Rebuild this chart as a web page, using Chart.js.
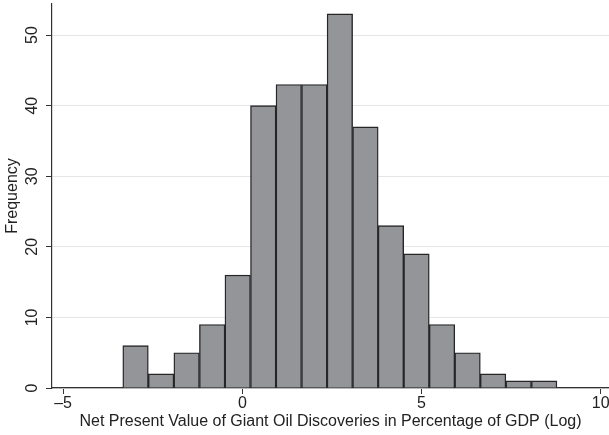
<!DOCTYPE html>
<html>
<head>
<meta charset="utf-8">
<script src="https://cdn.jsdelivr.net/npm/chart.js@4"></script>
<style>
  body { margin: 0; background: #fff; }
  #wrap { width: 609px; height: 435px; }
</style>
</head>
<body>
<div id="wrap"><canvas id="myChart" width="609" height="435"></canvas></div>
<script>
// histogram bins (centres, bin width ~0.71)
var binCenters = [-2.979, -2.266, -1.554, -0.841, -0.129, 0.584, 1.296, 2.009, 2.721,
                  3.434, 4.146, 4.859, 5.571, 6.284, 6.996, 7.709, 8.421];
var frequencies = [6, 2, 5, 9, 16, 40, 43, 43, 53, 37, 23, 19, 9, 5, 2, 1, 1];
var xTicks = [-5, 0, 5, 10];
var yTicks = [0, 10, 20, 30, 40, 50];

var points = [];
for (var i = 0; i < binCenters.length; i++) {
	points.push({x: binCenters[i], y: frequencies[i]});
}

var font = {family: "'Liberation Sans', Arial, sans-serif", size: 16};
var ctx = document.getElementById('myChart').getContext('2d');
var chart = new Chart(ctx, {
	type: 'bar',
	data: {
		datasets: [{
			data: points,
			backgroundColor: '#939598',
			borderColor: '#262626',
			borderWidth: 1.4,
			barPercentage: 1,
			categoryPercentage: 1
		}]
	},
	options: {
		responsive: false,
		animation: false,
		layout: {padding: {top: 4, right: 0, left: 0, bottom: 0}},
		plugins: {legend: {display: false}, tooltip: {enabled: false}},
		scales: {
			x: {
				type: 'linear',
				min: -5.31,
				max: 10.23,
				offset: false,
				afterBuildTicks: function(s){ s.ticks = xTicks.map(function(v){ return {value: v}; }); },
				afterFit: function(s){ s.height = 47; s.paddingLeft = 0; s.paddingRight = 0; },
				grid: {display: true, drawOnChartArea: false, offset: false, tickLength: 6, tickColor: '#333', tickWidth: 1},
				border: {color: '#333', width: 1.2},
				ticks: {
					color: '#222', font: font, padding: 0, maxRotation: 0,
					callback: function(v){ return v < 0 ? '\u2013' + Math.abs(v) : String(v); }
				},
				title: {display: true, text: 'Net Present Value of Giant Oil Discoveries in Percentage of GDP (Log)',
					color: '#222', font: font, padding: {top: 0, bottom: 3.6}}
			},
			y: {
				min: 0,
				max: 54.4,
				afterBuildTicks: function(s){ s.ticks = yTicks.map(function(v){ return {value: v}; }); },
				afterFit: function(s){ s.width = 52; s.paddingTop = 0; s.paddingBottom = 0; },
				grid: {color: '#e6e6e6', lineWidth: 1, tickLength: 6, tickColor: '#333'},
				border: {color: '#333', width: 1.2},
				ticks: {color: '#222', font: font, padding: 5, minRotation: 90, maxRotation: 90, crossAlign: 'center'},
				title: {display: true, text: 'Frequency', color: '#222', font: font, padding: {top: 3.4, bottom: 0}}
			}
		}
	}
});
</script>
</body>
</html>
